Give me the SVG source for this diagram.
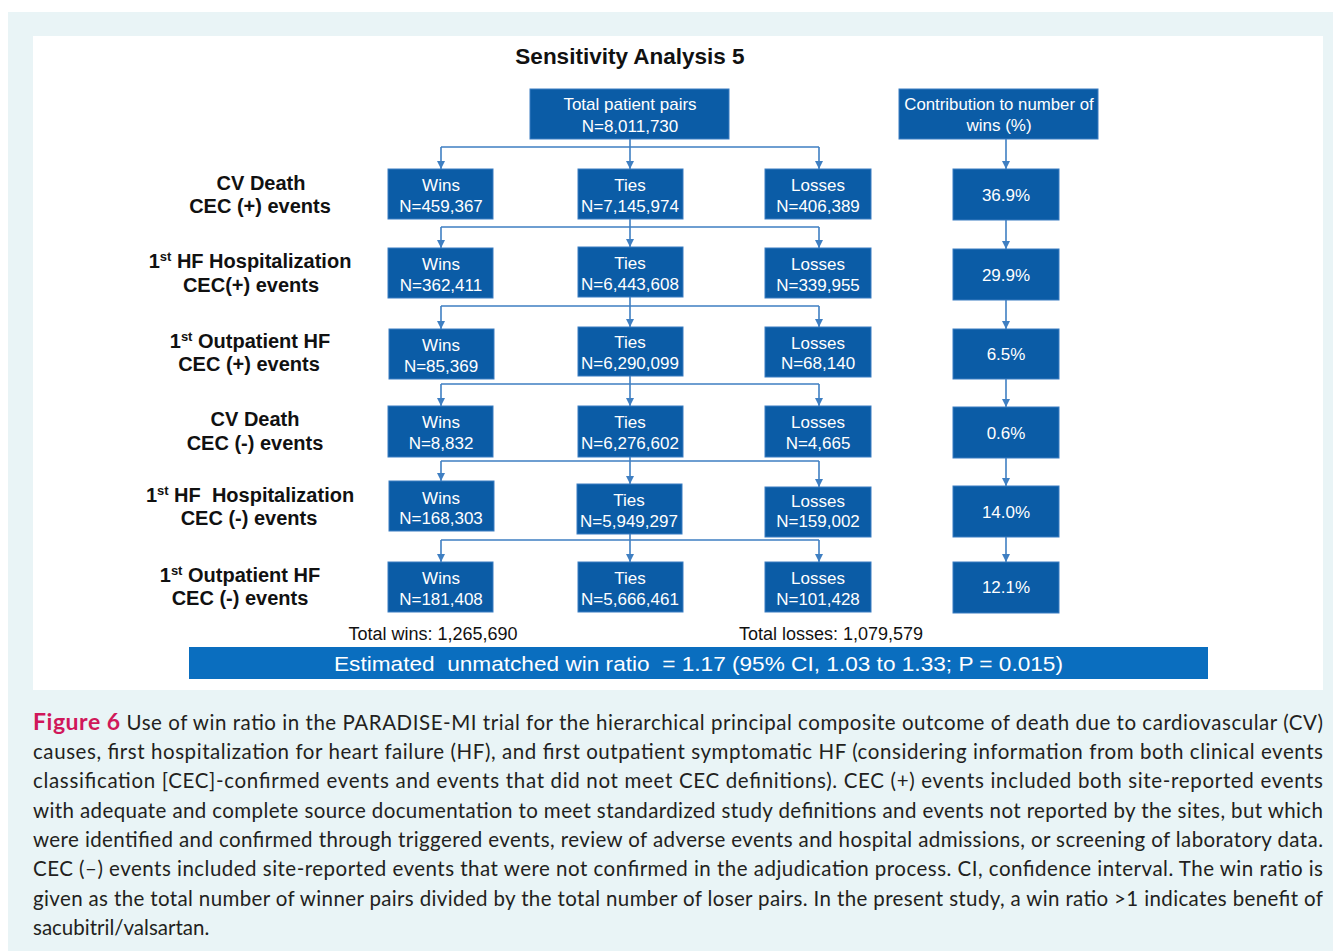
<svg xmlns="http://www.w3.org/2000/svg" width="1333" height="951" viewBox="0 0 1333 951">
<style>
.box{fill:#0b5ca6;stroke:#3a7dc2;stroke-width:1}
.bt{font-family:"Liberation Sans",Arial,sans-serif;font-size:17px;fill:#fff;text-anchor:middle}
.lab{font-family:"Liberation Sans",Arial,sans-serif;font-size:20px;font-weight:bold;fill:#111;text-anchor:middle}
.sup{font-size:13px}
.con{fill:none;stroke:#3f7fc2;stroke-width:1.6}
.tot{font-family:"Liberation Sans",Arial,sans-serif;font-size:18px;fill:#111;text-anchor:middle}
.cap{font-family:Lato,"Open Sans",sans-serif;font-size:20.5px;fill:#231f20}
</style>
<defs>
<marker id="ah" markerUnits="userSpaceOnUse" markerWidth="9" markerHeight="8" refX="8" refY="4" orient="auto">
<path d="M0,0 L8,4 L0,8 z" fill="#3f7fc2"/>
</marker>
</defs>
<rect x="0" y="0" width="1333" height="951" fill="#ffffff"/>
<rect x="8" y="12" width="1325" height="939" fill="#e9f4f6"/>
<rect x="33" y="36" width="1290" height="654" fill="#ffffff"/>
<text x="630" y="64" font-family="Liberation Sans,Arial,sans-serif" font-size="22.5" font-weight="bold" fill="#111" text-anchor="middle">Sensitivity Analysis 5</text>

<g id="connectors">
<path class="con" d="M630,139 V147 M441,147 H819" />
<path class="con" d="M441,147 V169" marker-end="url(#ah)"/>
<path class="con" d="M630,147 V169" marker-end="url(#ah)"/>
<path class="con" d="M819,147 V169" marker-end="url(#ah)"/>
<path class="con" d="M630,219 V227 M441,227 H819"/>
<path class="con" d="M441,227 V248" marker-end="url(#ah)"/>
<path class="con" d="M630,227 V247" marker-end="url(#ah)"/>
<path class="con" d="M819,227 V248" marker-end="url(#ah)"/>
<path class="con" d="M630,297 V306 M441,306 H819"/>
<path class="con" d="M441,306 V329" marker-end="url(#ah)"/>
<path class="con" d="M630,306 V327" marker-end="url(#ah)"/>
<path class="con" d="M819,306 V327" marker-end="url(#ah)"/>
<path class="con" d="M630,376 V384 M441,384 H819"/>
<path class="con" d="M441,384 V406" marker-end="url(#ah)"/>
<path class="con" d="M630,384 V406" marker-end="url(#ah)"/>
<path class="con" d="M819,384 V406" marker-end="url(#ah)"/>
<path class="con" d="M630,457 V461 M441,461 H819"/>
<path class="con" d="M441,461 V481" marker-end="url(#ah)"/>
<path class="con" d="M630,461 V484" marker-end="url(#ah)"/>
<path class="con" d="M819,461 V487" marker-end="url(#ah)"/>
<path class="con" d="M630,534 V540 M441,540 H819"/>
<path class="con" d="M441,540 V562" marker-end="url(#ah)"/>
<path class="con" d="M630,540 V562" marker-end="url(#ah)"/>
<path class="con" d="M819,540 V562" marker-end="url(#ah)"/>
<path class="con" d="M1006,139 V169" marker-end="url(#ah)"/>
<path class="con" d="M1006,220 V249" marker-end="url(#ah)"/>
<path class="con" d="M1006,300 V329" marker-end="url(#ah)"/>
<path class="con" d="M1006,379 V407" marker-end="url(#ah)"/>
<path class="con" d="M1006,458 V486" marker-end="url(#ah)"/>
<path class="con" d="M1006,537 V562" marker-end="url(#ah)"/>
</g>

<g id="total"><rect class="box" x="530" y="89" width="199" height="50"/><text class="bt" x="630" y="110">Total patient pairs</text><text class="bt" x="630" y="132">N=8,011,730</text></g>
<g id="contrib"><rect class="box" x="899" y="89" width="199" height="50"/><text class="bt" x="999" y="110" style="font-size:16.8px">Contribution to number of</text><text class="bt" x="999" y="131">wins (%)</text></g>

<g id="labels">
<text class="lab" x="261" y="190">CV Death</text>
<text class="lab" x="260" y="213">CEC (+) events</text>
<text class="lab" x="250" y="268">1<tspan class="sup" dy="-7">st</tspan><tspan dy="7"> HF Hospitalization</tspan></text>
<text class="lab" x="251" y="292">CEC(+) events</text>
<text class="lab" x="250" y="348">1<tspan class="sup" dy="-7">st</tspan><tspan dy="7"> Outpatient HF</tspan></text>
<text class="lab" x="249" y="371">CEC (+) events</text>
<text class="lab" x="255" y="426">CV Death</text>
<text class="lab" x="255" y="450">CEC (-) events</text>
<text class="lab" x="250" y="502" xml:space="preserve">1<tspan class="sup" dy="-7">st</tspan><tspan dy="7"> HF  Hospitalization</tspan></text>
<text class="lab" x="249" y="525">CEC (-) events</text>
<text class="lab" x="240" y="582">1<tspan class="sup" dy="-7">st</tspan><tspan dy="7"> Outpatient HF</tspan></text>
<text class="lab" x="240" y="605">CEC (-) events</text>
</g>

<g id="r1w"><rect class="box" x="388" y="169" width="105" height="50"/><text class="bt" x="441" y="191">Wins</text><text class="bt" x="441" y="212">N=459,367</text></g>
<g id="r1t"><rect class="box" x="578" y="169" width="105" height="50"/><text class="bt" x="630" y="191">Ties</text><text class="bt" x="630" y="212">N=7,145,974</text></g>
<g id="r1l"><rect class="box" x="765" y="169" width="106" height="50"/><text class="bt" x="818" y="191">Losses</text><text class="bt" x="818" y="212">N=406,389</text></g>

<g id="r2w"><rect class="box" x="388" y="248" width="105" height="50"/><text class="bt" x="441" y="270">Wins</text><text class="bt" x="441" y="291">N=362,411</text></g>
<g id="r2t"><rect class="box" x="578" y="247" width="105" height="50"/><text class="bt" x="630" y="269">Ties</text><text class="bt" x="630" y="290">N=6,443,608</text></g>
<g id="r2l"><rect class="box" x="765" y="248" width="106" height="50"/><text class="bt" x="818" y="270">Losses</text><text class="bt" x="818" y="291">N=339,955</text></g>

<g id="r3w"><rect class="box" x="389" y="329" width="105" height="50"/><text class="bt" x="441" y="351">Wins</text><text class="bt" x="441" y="372">N=85,369</text></g>
<g id="r3t"><rect class="box" x="578" y="327" width="105" height="49"/><text class="bt" x="630" y="348">Ties</text><text class="bt" x="630" y="369">N=6,290,099</text></g>
<g id="r3l"><rect class="box" x="765" y="327" width="106" height="50"/><text class="bt" x="818" y="349">Losses</text><text class="bt" x="818" y="369">N=68,140</text></g>

<g id="r4w"><rect class="box" x="388" y="406" width="105" height="51"/><text class="bt" x="441" y="428">Wins</text><text class="bt" x="441" y="449">N=8,832</text></g>
<g id="r4t"><rect class="box" x="578" y="406" width="105" height="51"/><text class="bt" x="630" y="428">Ties</text><text class="bt" x="630" y="449">N=6,276,602</text></g>
<g id="r4l"><rect class="box" x="765" y="406" width="106" height="51"/><text class="bt" x="818" y="428">Losses</text><text class="bt" x="818" y="449">N=4,665</text></g>

<g id="r5w"><rect class="box" x="389" y="481" width="105" height="50"/><text class="bt" x="441" y="504">Wins</text><text class="bt" x="441" y="524">N=168,303</text></g>
<g id="r5t"><rect class="box" x="577" y="484" width="105" height="50"/><text class="bt" x="629" y="506">Ties</text><text class="bt" x="629" y="527">N=5,949,297</text></g>
<g id="r5l"><rect class="box" x="765" y="487" width="106" height="50"/><text class="bt" x="818" y="507">Losses</text><text class="bt" x="818" y="527">N=159,002</text></g>

<g id="r6w"><rect class="box" x="388" y="562" width="105" height="50"/><text class="bt" x="441" y="584">Wins</text><text class="bt" x="441" y="605">N=181,408</text></g>
<g id="r6t"><rect class="box" x="578" y="562" width="105" height="50"/><text class="bt" x="630" y="584">Ties</text><text class="bt" x="630" y="605">N=5,666,461</text></g>
<g id="r6l"><rect class="box" x="765" y="562" width="106" height="50"/><text class="bt" x="818" y="584">Losses</text><text class="bt" x="818" y="605">N=101,428</text></g>

<g id="p1"><rect class="box" x="953" y="169" width="106" height="51"/><text class="bt" x="1006" y="201">36.9%</text></g>
<g id="p2"><rect class="box" x="953" y="249" width="106" height="51"/><text class="bt" x="1006" y="281">29.9%</text></g>
<g id="p3"><rect class="box" x="953" y="329" width="106" height="50"/><text class="bt" x="1006" y="360">6.5%</text></g>
<g id="p4"><rect class="box" x="953" y="407" width="106" height="51"/><text class="bt" x="1006" y="439">0.6%</text></g>
<g id="p5"><rect class="box" x="953" y="486" width="106" height="51"/><text class="bt" x="1006" y="518">14.0%</text></g>
<g id="p6"><rect class="box" x="953" y="562" width="106" height="51"/><text class="bt" x="1006" y="593">12.1%</text></g>

<text class="tot" x="433" y="640">Total wins: 1,265,690</text>
<text class="tot" x="831" y="640">Total losses: 1,079,579</text>

<g id="ratio"><rect x="189" y="647" width="1019" height="32" fill="#0a6ebf"/>
<text x="334" y="671" font-family="Liberation Sans,Arial,sans-serif" font-size="21" fill="#fff" textLength="729" lengthAdjust="spacingAndGlyphs" xml:space="preserve">Estimated  unmatched win ratio  = 1.17 (95% CI, 1.03 to 1.33; P = 0.015)</text></g>

<g id="caption">
<text class="cap" x="33" y="730" textLength="1290" lengthAdjust="spacing"><tspan font-weight="bold" font-size="23" fill="#d0185a">Figure 6</tspan> Use of win ratio in the PARADISE-MI trial for the hierarchical principal composite outcome of death due to cardiovascular (CV)</text>
<text class="cap" x="33" y="759" textLength="1290" lengthAdjust="spacing">causes, first hospitalization for heart failure (HF), and first outpatient symptomatic HF (considering information from both clinical events</text>
<text class="cap" x="33" y="788" textLength="1290" lengthAdjust="spacing">classification [CEC]-confirmed events and events that did not meet CEC definitions). CEC (+) events included both site-reported events</text>
<text class="cap" x="33" y="818" textLength="1290" lengthAdjust="spacing">with adequate and complete source documentation to meet standardized study definitions and events not reported by the sites, but which</text>
<text class="cap" x="33" y="847" textLength="1290" lengthAdjust="spacing">were identified and confirmed through triggered events, review of adverse events and hospital admissions, or screening of laboratory data.</text>
<text class="cap" x="33" y="876" textLength="1290" lengthAdjust="spacing">CEC (–) events included site-reported events that were not confirmed in the adjudication process. CI, confidence interval. The win ratio is</text>
<text class="cap" x="33" y="906" textLength="1290" lengthAdjust="spacing">given as the total number of winner pairs divided by the total number of loser pairs. In the present study, a win ratio &gt;1 indicates benefit of</text>
<text class="cap" x="33" y="935">sacubitril/valsartan.</text>
</g>
</svg>
